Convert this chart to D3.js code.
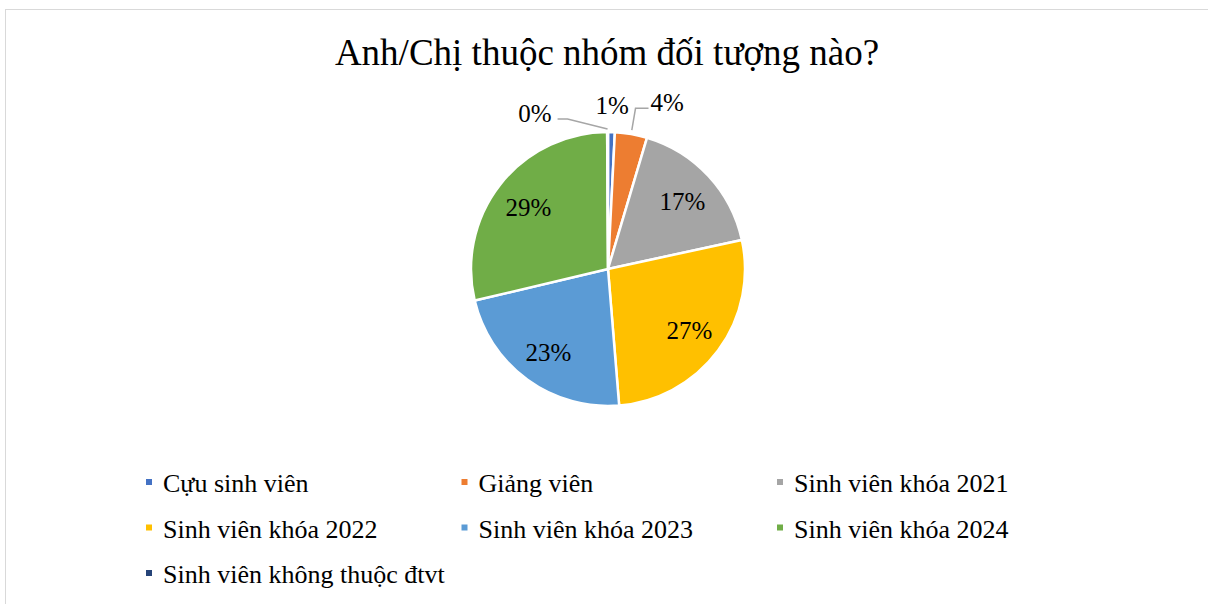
<!DOCTYPE html>
<html>
<head>
<meta charset="utf-8">
<script src="https://cdn.jsdelivr.net/npm/d3@7"></script>
<style>
  body { margin: 0; background: #fff; }
  svg { display: block; }
  svg text { font-family: "Liberation Serif", "Times New Roman", serif; }
</style>
</head>
<body>
<svg id="chart" width="1208" height="604"></svg>
<script>
// data (share of respondents, %)
const categories = [
  "Cựu sinh viên",
  "Giảng viên",
  "Sinh viên khóa 2021",
  "Sinh viên khóa 2022",
  "Sinh viên khóa 2023",
  "Sinh viên khóa 2024",
  "Sinh viên không thuộc đtvt"
];
const values = [0.8, 3.8, 17.0, 27.1, 22.6, 28.6, 0.1];
const colors = ["#4472C4", "#ED7D31", "#A5A5A5", "#FFC000", "#5B9BD5", "#70AD47", "#264478"];
const title = "Anh/Chị thuộc nhóm đối tượng nào?";

const cx = 608, cy = 269, radius = 137;
const serif = "Liberation Serif, Times New Roman, serif";

const svg = d3.select("#chart");

// chart frame (only top and left edges are inside the picture)
svg.append("rect")
  .attr("x", 5.5).attr("y", 9.5)
  .attr("width", 1400).attr("height", 800)
  .attr("fill", "none")
  .attr("stroke", "#d9d9d9")
  .attr("stroke-width", 1);

svg.append("text")
  .attr("x", 607).attr("y", 65)
  .attr("text-anchor", "middle")
  .attr("font-family", serif)
  .attr("font-size", 37)
  .attr("fill", "#000")
  .text(title);

const data = categories.map((c, i) => ({ name: c, value: values[i], color: colors[i] }));
const total = d3.sum(values);

const pie = d3.pie().sort(null).value(d => d.value);
const arcs = pie(data);

const arc = d3.arc().innerRadius(0).outerRadius(radius);
const labelArc = d3.arc().innerRadius(radius * 0.74).outerRadius(radius * 0.74);

const g = svg.append("g").attr("transform", `translate(${cx},${cy})`);

g.selectAll("path.slice")
  .data(arcs)
  .enter()
  .append("path")
  .attr("class", "slice")
  .attr("d", arc)
  .attr("fill", d => d.data.color)
  .attr("stroke", "#fff")
  .attr("stroke-width", 2.5)
  .attr("stroke-linejoin", "round");

const pct = d => Math.round(d.data.value / total * 100) + "%";
const mid = d => (d.startAngle + d.endAngle) / 2;
const polar = (a, r) => [Math.sin(a) * r, -Math.cos(a) * r];

// big slices: labels inside
g.selectAll("text.inside")
  .data(arcs.filter(d => d.data.value / total >= 0.05))
  .enter()
  .append("text")
  .attr("class", "inside")
  .attr("transform", d => `translate(${labelArc.centroid(d)})`)
  .attr("text-anchor", "middle")
  .attr("dy", "0.38em")
  .attr("font-family", serif)
  .attr("font-size", 25)
  .attr("fill", "#000")
  .text(pct);

// small slices: labels outside, with leader lines like Excel's best fit
const small = arcs.filter(d => d.data.value / total < 0.05);
small.forEach(d => {
  const a = mid(d);
  if (d.index === 0) {
    // close enough to the slice, no leader
    const p = polar(a, radius + 27);
    g.append("text")
      .attr("x", p[0]).attr("y", p[1])
      .attr("dy", "0.35em")
      .attr("text-anchor", "middle")
      .attr("font-family", serif)
      .attr("font-size", 25)
      .text(pct(d));
  } else if (a < Math.PI) {
    const p0 = polar(a, radius + 4);
    const p1 = polar(a, radius + 26);
    const p2 = [p1[0] + 13, p1[1]];
    g.append("polyline")
      .attr("points", [p0, p1, p2].map(p => p.join(",")).join(" "))
      .attr("fill", "none")
      .attr("stroke", "#A6A6A6")
      .attr("stroke-width", 1.5);
    g.append("text")
      .attr("x", p2[0] + 2).attr("y", p2[1] - 6)
      .attr("dy", "0.35em")
      .attr("font-family", serif)
      .attr("font-size", 25)
      .text(pct(d));
  } else {
    const p0 = polar(a, radius + 3);
    const p1 = [p0[0] - 40, p0[1] - 10];
    const p2 = [p1[0] - 10, p1[1]];
    g.append("polyline")
      .attr("points", [p0, p1, p2].map(p => p.join(",")).join(" "))
      .attr("fill", "none")
      .attr("stroke", "#A6A6A6")
      .attr("stroke-width", 1.5);
    g.append("text")
      .attr("x", p2[0] - 6).attr("y", p2[1] - 6)
      .attr("dy", "0.35em")
      .attr("text-anchor", "end")
      .attr("font-family", serif)
      .attr("font-size", 25)
      .text(pct(d));
  }
});

// legend, 3 columns
const legend = svg.append("g");
const item = legend.selectAll("g.item")
  .data(data)
  .enter()
  .append("g")
  .attr("class", "item")
  .attr("transform", (d, i) => `translate(${146 + (i % 3) * 315.5},${492 + Math.floor(i / 3) * 45.5})`);

item.append("rect")
  .attr("x", 0).attr("y", -13)
  .attr("width", 6).attr("height", 6)
  .attr("fill", d => d.color);

item.append("text")
  .attr("x", 17).attr("y", 0)
  .attr("font-family", serif)
  .attr("font-size", 26)
  .attr("fill", "#000")
  .text(d => d.name);
</script>
</body>
</html>
